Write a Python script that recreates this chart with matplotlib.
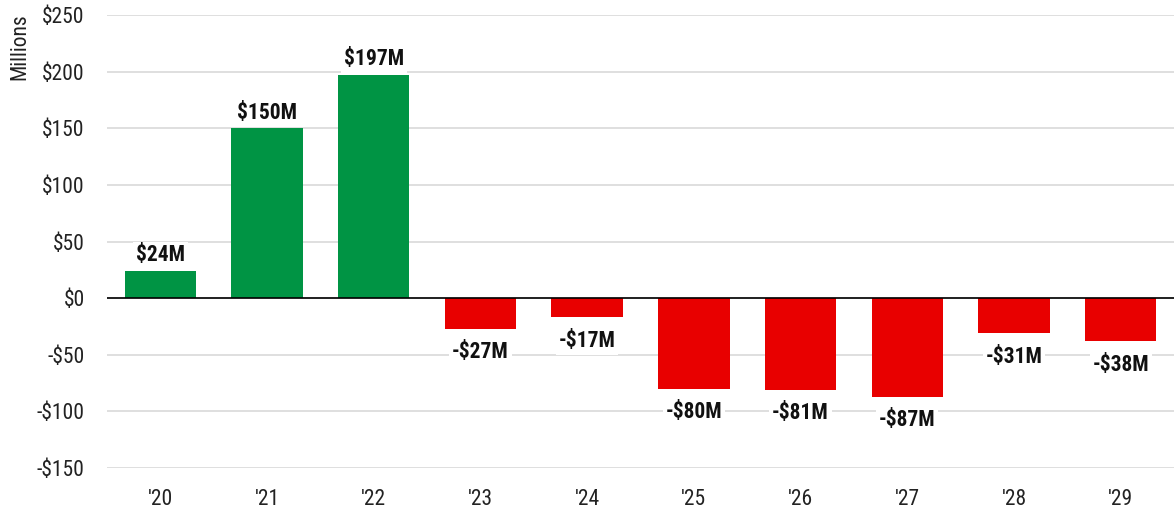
import matplotlib
matplotlib.use("Agg")
import matplotlib.pyplot as plt
from matplotlib import font_manager
from matplotlib.font_manager import FontProperties

years = ["'20", "'21", "'22", "'23", "'24", "'25", "'26", "'27", "'28", "'29"]
values = [24, 150, 197, -27, -17, -80, -81, -87, -31, -38]
labels = ["$24M", "$150M", "$197M", "-$27M", "-$17M", "-$80M", "-$81M", "-$87M", "-$31M", "-$38M"]
yticks = [-150, -100, -50, 0, 50, 100, 150, 200, 250]
ytick_labels = ["-$150", "-$100", "-$50", "$0", "$50", "$100", "$150", "$200", "$250"]


def find_font(bold):
    cands = []
    for f in font_manager.fontManager.ttflist:
        fn = f.fname.lower()
        if ("condensed" in fn or "narrow" in fn or f.stretch in ("condensed", "semi-condensed")) \
                and "oblique" not in fn and "italic" not in fn:
            isbold = ("bold" in fn) or (isinstance(f.weight, int) and f.weight >= 600) or f.weight == "bold"
            if isbold == bold:
                cands.append(f)
    pref = ["roboto", "liberation", "open", "noto", "dejavu"]
    for p in pref:
        for f in cands:
            if p in f.fname.lower():
                return FontProperties(fname=f.fname)
    if cands:
        return FontProperties(fname=cands[0].fname)
    return FontProperties(family="DejaVu Sans", weight="bold" if bold else "normal")

reg = find_font(False)
bld = find_font(True)

GREEN = "#009444"
RED = "#E80000"

fig = plt.figure(figsize=(11.74, 5.11), dpi=100)
ax = fig.add_axes([107/1174, (511-468)/511, 1 - 107/1174, (468-15)/511])

x = list(range(len(values)))
colors = [GREEN if v >= 0 else RED for v in values]
ax.bar(x, values, width=0.67, color=colors, zorder=2)

ax.set_xlim(-0.5, len(values) - 0.5)
ax.set_ylim(-150, 250)
ax.set_yticks(yticks)
ax.set_yticklabels(ytick_labels)
ax.set_xticks(x)
ax.set_xticklabels(years)
for t in ax.get_xticklabels() + ax.get_yticklabels():
    t.set_fontproperties(reg)
    t.set_fontsize(15.5)
    t.set_color("#222222")
ax.tick_params(axis='both', length=0)
ax.tick_params(axis='x', pad=15)
ax.tick_params(axis='y', pad=16)
ax.grid(axis='y', color="#d9d9d9", linewidth=1.2, zorder=0)
for s in ax.spines.values():
    s.set_visible(False)
ax.axhline(0, color="black", linewidth=1.2, zorder=3)

ax.set_ylabel("Millions", fontproperties=reg, fontsize=15.5, color="#222222")
ax.yaxis.set_label_coords(-0.072, 0.93)

for xi, v, lab in zip(x, values, labels):
    if v >= 0:
        ax.text(xi, v + 4, lab, ha='center', va='bottom', fontproperties=bld, fontsize=15.5,
                color="#111111", zorder=4,
                bbox=dict(facecolor='white', edgecolor='none', pad=2))
    else:
        ax.text(xi, v - 11, lab, ha='center', va='top', fontproperties=bld, fontsize=15.5,
                color="#111111", zorder=4,
                bbox=dict(facecolor='white', edgecolor='none', pad=2))

fig.savefig("out.png", dpi=100)
